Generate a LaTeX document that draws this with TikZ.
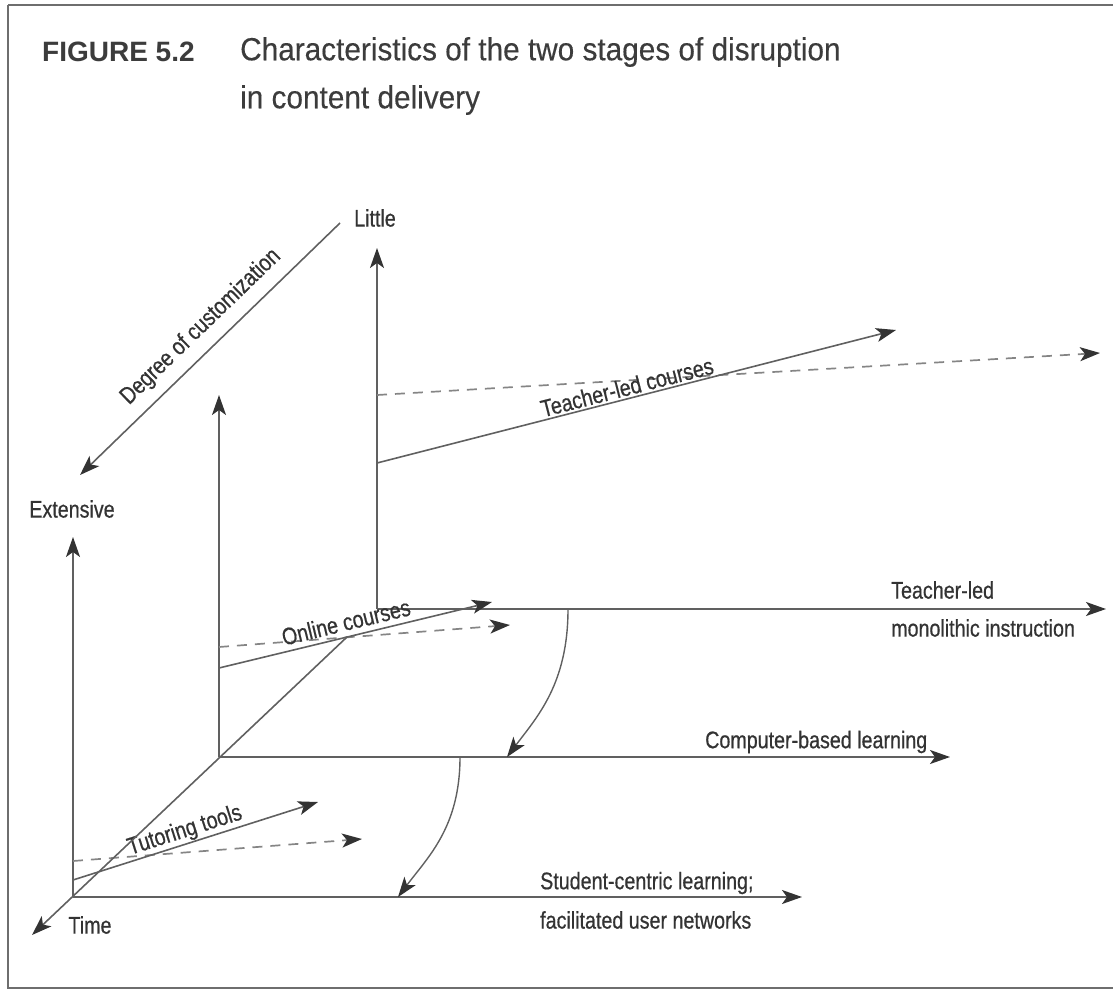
\documentclass[tikz,border=0pt]{standalone}
\usepackage{fontspec}
\setmainfont{Liberation Sans}
\newfontfamily\labfont[FakeStretch=0.82,FakeBold=0.6]{Liberation Sans}
\newfontfamily\titfont[FakeStretch=0.93,FakeBold=0.3]{Liberation Sans}
\usetikzlibrary{arrows.meta}
\definecolor{ink}{HTML}{333333}
\definecolor{titink}{HTML}{3C3C3C}
\definecolor{linec}{HTML}{606060}
\definecolor{dashc}{HTML}{858585}
\definecolor{framec}{HTML}{6E6E6E}
\begin{document}
\begin{tikzpicture}[x=1pt,y=-1pt,
  lab/.style={font=\labfont\fontsize{24}{28}\selectfont, text=ink, inner sep=0pt},
  tip/.style={-{Stealth[length=20pt,width=14pt,inset=5pt,color=ink]}},
  axisline/.style={draw=linec, line width=1.6pt, tip},
  dashline/.style={draw=dashc, line width=1.7pt, dash pattern=on 10pt off 8pt, tip},
  curvline/.style={draw=linec, line width=1.4pt, tip}]
\useasboundingbox (0,0) rectangle (1113,992);
% frame
\draw[framec, line width=2.2pt] (8,5) -- (1130,5) (8,5) -- (8,988) -- (1130,988);
% title
\node[anchor=west, inner sep=0pt, text=titink, font=\bfseries\fontsize{28}{34}\selectfont] (fig) at (42,52) {FIGURE 5.2};
\node[anchor=west, inner sep=0pt, text=titink, font=\titfont\fontsize{32}{36}\selectfont] (tit1) at (240,52) {Characteristics of the two stages of disruption};
\node[anchor=west, inner sep=0pt, text=titink, font=\titfont\fontsize{32}{36}\selectfont] (tit2) at (240,100) {in content delivery};
% coordinates
\coordinate (bO) at (377,609);
\coordinate (bUp) at (377,248);
\coordinate (bRt) at (1106,609);
\coordinate (mO) at (219,757);
\coordinate (mUp) at (219,395);
\coordinate (mRt) at (950,757);
\coordinate (fO) at (73,897);
\coordinate (fUp) at (73,537);
\coordinate (fRt) at (802,897);
\coordinate (tlcS) at (377,463); \coordinate (tlcE) at (896,330);
\coordinate (tldS) at (377,395); \coordinate (tldE) at (1100,353);
\coordinate (ocS) at (219,668);  \coordinate (ocE) at (492,602);
\coordinate (odS) at (219,647);  \coordinate (odE) at (510,625);
\coordinate (ttS) at (73,880);   \coordinate (ttE) at (318,802);
\coordinate (tdS) at (73,861);   \coordinate (tdE) at (362,839);
\coordinate (tstart) at (347,637);
\coordinate (timeE) at (32,935);
\coordinate (degS) at (340,223); \coordinate (degE) at (80,475);
\coordinate (c1S) at (568,609);  \coordinate (c1E) at (507,757);
\coordinate (c2S) at (460,757);  \coordinate (c2E) at (398,897);
% degree of customization
\draw[axisline] (degS) -- (degE);
\node[lab, rotate=44.1] (deglab) at (201,327) {Degree of customization};
\node[lab] (little) at (375,218) {Little};
\node[lab] (extensive) at (72,509) {Extensive};
% back plane
\draw[axisline] (bO) -- (bUp);
\draw[axisline] (bO) -- (bRt);
\draw[dashline] (tldS) -- (tldE);
\draw[axisline] (tlcS) -- (tlcE);
\node[lab, rotate=14.4] (tlclab) at (627,387) {Teacher-led courses};
\node[lab, anchor=west] (tl1) at (891,590) {Teacher-led};
\node[lab, anchor=west] (tl2) at (891,628) {monolithic instruction};
% middle plane
\draw[axisline] (mO) -- (mUp);
\draw[axisline] (mO) -- (mRt);
\draw[dashline] (odS) -- (odE);
\draw[axisline] (ocS) -- (ocE);
\node[lab, rotate=13.6] (oclab) at (346,622) {Online courses};
\node[lab, anchor=west] (cbl) at (705,742) {Computer-based learning};
% front plane
\draw[axisline] (fO) -- (fUp);
\draw[axisline] (fO) -- (fRt);
\draw[dashline] (tdS) -- (tdE);
\draw[axisline] (ttS) -- (ttE);
\node[lab, rotate=17.7] (ttlab) at (185,831) {Tutoring tools};
\node[lab, anchor=west] (sc1) at (540,883) {Student-centric learning;};
\node[lab, anchor=west] (sc2) at (540,920) {facilitated user networks};
% time axis
\draw[axisline] (tstart) -- (timeE);
\node[lab] (time) at (90,925) {Time};
% transitions
\draw[curvline] (c1S) .. controls +(0,75) and +(30,-40) .. (c1E);
\draw[curvline] (c2S) .. controls +(0,70) and +(30,-40) .. (c2E);
\end{tikzpicture}
\end{document}
